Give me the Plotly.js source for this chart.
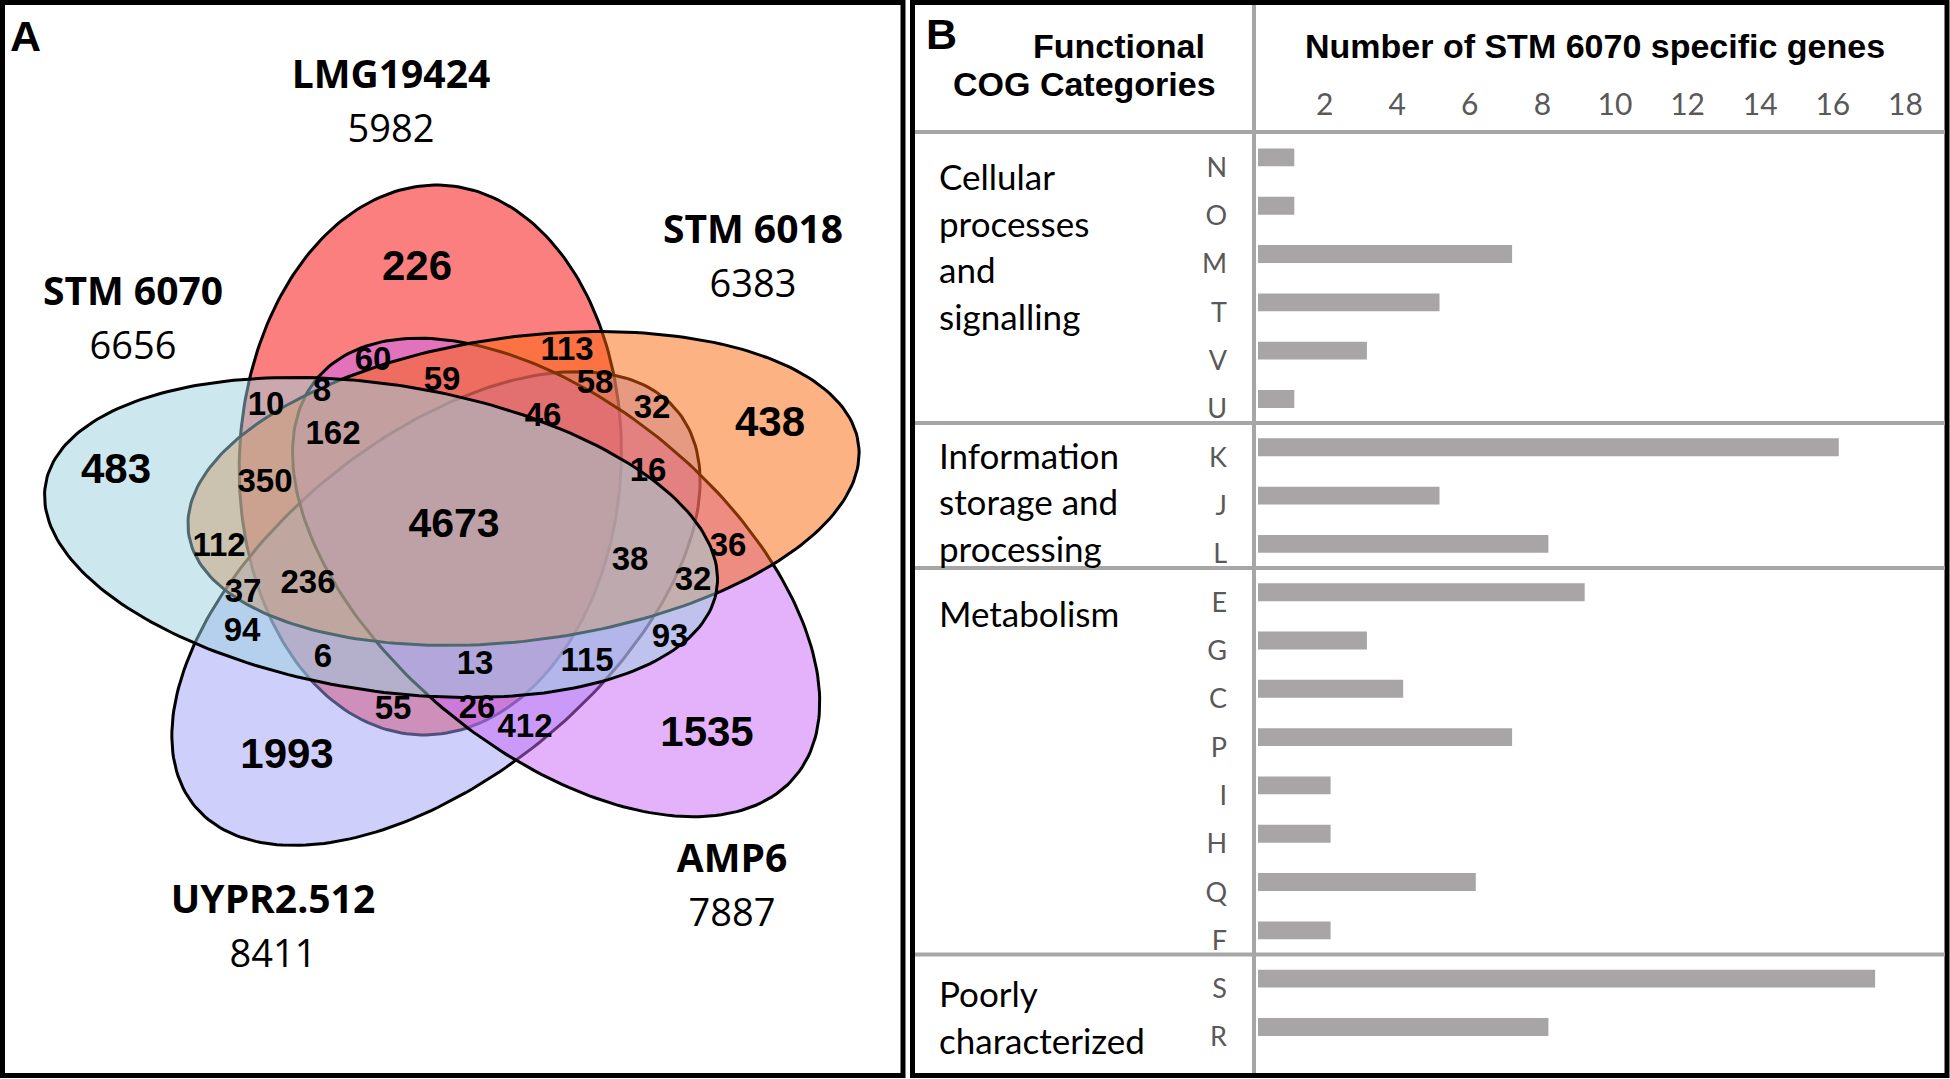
<!DOCTYPE html>
<html>
<head>
<meta charset="utf-8">
<script src="https://cdn.plot.ly/plotly-3.0.1.min.js"></script>
<style>
html, body { margin: 0; padding: 0; background: #fff; }
#chart { width: 1950px; height: 1079px; }
</style>
</head>
<body>
<div id="chart"></div>
<script>
// ---- panel A data: five genomes ----
const setNames  = ['LMG19424', 'STM 6018', 'AMP6', 'UYPR2.512', 'STM 6070'];
const setTotals = [5982, 6383, 7887, 8411, 6656];
// gene counts of the 31 Venn regions
const regionCounts = [226, 60, 113, 59, 8, 10, 58, 32, 438, 46, 162, 483, 350, 16, 4673,
    112, 36, 38, 32, 236, 37, 94, 93, 6, 115, 13, 26, 55, 412, 1535, 1993];

// ---- panel B data: COG categories ----
const cogLetters = ['N', 'O', 'M', 'T', 'V', 'U', 'K', 'J', 'L', 'E', 'G', 'C', 'P', 'I', 'H', 'Q', 'F', 'S', 'R'];
const cogCounts  = [1, 1, 7, 5, 3, 1, 16, 5, 8, 9, 3, 4, 7, 2, 2, 6, 2, 17, 8];
const groupNames = [['Cellular', 'processes', 'and', 'signalling'],
    ['Information', 'storage and', 'processing'], ['Metabolism'], ['Poorly', 'characterized']];
const groupSizes = [6, 3, 8, 2];
const xTicks = [2, 4, 6, 8, 10, 12, 14, 16, 18];

// ---- layout ----
const W = 1950, H = 1079;
const SX = 1.24; // venn is stretched sideways
// centre (unstretched px), semi axes, angle; same order as setNames
const ellipseGeom = [
    {cx: 347, cy: 460, a: 275, b: 154, rot: -88.5},
    {cx: 422.2, cy: 488.5, a: 274, b: 151, rot: -10.8},
    {cx: 448.5, cy: 577.5, a: 280, b: 155, rot: 51.4},
    {cx: 351.6, cy: 608.5, a: 280, b: 152, rot: -50.6},
    {cx: 307.3, cy: 537.5, a: 276, b: 152, rot: 12.6}
];
const setFill = ['rgba(250,0,0,0.5)', 'rgba(251,101,7,0.5)', 'rgba(199,101,247,0.5)',
    'rgba(159,159,247,0.5)', 'rgba(153,209,221,0.5)'];
const drawOrder = [0, 3, 2, 1, 4];
const nameXY = [[391, 78], [753, 233], [732, 862], [273, 903], [133, 295]];
const regionXY = [[417, 269], [373, 362], [567, 352], [442, 382], [322, 393], [266, 407], [595, 385],
    [652, 410], [770, 425], [543, 418], [333, 436], [116, 472], [265, 484], [648, 473], [454, 527],
    [219, 548], [728, 548], [630, 562], [693, 582], [308, 585], [243, 594], [242, 633], [670, 639],
    [323, 659], [587, 663], [475, 666], [477, 710], [393, 711], [525, 729], [707, 735], [287, 757]];
const petalRegions = [0, 8, 11, 29, 30];
const coreRegion = 14;
const groupTextY = [176, 455, 613, 993];
const lineGap = 46.5;

const x0px = 1258, pxPerUnit = 36.3, xRightPx = 1946;
const yTopPx = 132, yBotPx = 1075, rowTopPx = 157.4, rowStep = 48.31;

function px(x) { return x / W; }
function py(y) { return 1 - y / H; }

function ellipseXY(g) {
    const xs = [], ys = [];
    const r = g.rot * Math.PI / 180, c = Math.cos(r), s = Math.sin(r);
    for (let i = 0; i <= 240; i++) {
        const t = 2 * Math.PI * i / 240;
        const u = g.a * Math.cos(t), v = g.b * Math.sin(t);
        xs.push((g.cx + u * c - v * s) * SX);
        ys.push(g.cy + u * s + v * c);
    }
    return {xs: xs, ys: ys};
}

const traces = [];
drawOrder.forEach(function(i) {
    const e = ellipseXY(ellipseGeom[i]);
    traces.push({
        type: 'scatter', mode: 'lines', x: e.xs, y: e.ys, xaxis: 'x2', yaxis: 'y2',
        fill: 'toself', fillcolor: setFill[i], line: {color: '#000', width: 3},
        hoverinfo: 'skip', name: setNames[i]
    });
});

traces.push({
    type: 'scatter', mode: 'text', xaxis: 'x2', yaxis: 'y2', cliponaxis: false,
    x: regionXY.map(p => p[0]), y: regionXY.map(p => p[1]),
    text: regionCounts.map(String),
    textfont: {family: 'Liberation Sans, Arial, sans-serif', weight: 'bold', color: '#000',
        size: regionCounts.map(function(v, i) {
            if (i === coreRegion) return 41;
            return petalRegions.indexOf(i) >= 0 ? 42 : 33;
        })},
    hoverinfo: 'skip'
});
traces.push({
    type: 'scatter', mode: 'text', xaxis: 'x2', yaxis: 'y2', cliponaxis: false,
    x: nameXY.map(p => p[0]), y: nameXY.map(p => p[1]), text: setNames,
    textfont: {family: 'Open Sans, sans-serif', weight: 'bold', size: 39, color: '#000'},
    hoverinfo: 'skip'
});
traces.push({
    type: 'scatter', mode: 'text', xaxis: 'x2', yaxis: 'y2', cliponaxis: false,
    x: nameXY.map(p => p[0]), y: nameXY.map(p => p[1] + 54), text: setTotals.map(String),
    textfont: {family: 'Open Sans, sans-serif', size: 38, color: '#000'},
    hoverinfo: 'skip'
});

traces.push({
    type: 'bar', orientation: 'h', x: cogCounts, y: cogLetters, width: 0.37,
    marker: {color: '#a8a5a6'}, hoverinfo: 'skip'
});

const annotations = [];
function addText(txt, x, y, size, family, opts) {
    annotations.push(Object.assign({
        text: txt, xref: 'paper', yref: 'paper', x: px(x), y: py(y),
        xanchor: 'center', yanchor: 'middle', showarrow: false,
        font: {family: family, size: size, color: '#000'}
    }, opts || {}));
}
const boldFont = 'Liberation Sans, Arial, sans-serif';
addText('<b>A</b>', 25, 36, 43, boldFont);
addText('<b>B</b>', 941, 34, 43, boldFont);
addText('<b>Functional</b>', 1119, 46, 34, boldFont);
addText('<b>COG Categories</b>', 1084, 84, 34, boldFont);
addText('<b>Number of STM 6070 specific genes</b>', 1595, 46, 34, boldFont);
groupNames.forEach(function(lines, g) {
    lines.forEach(function(l, k) {
        addText(l, 937, groupTextY[g] + k * lineGap, 35, 'Lato, sans-serif', {xanchor: 'left'});
    });
});

const grey = '#a6a6a6';
const shapes = [
    {type: 'rect', xref: 'paper', yref: 'paper', x0: px(2.5), x1: px(903), y0: py(2.5), y1: py(1075.5),
        line: {color: '#000', width: 5}},
    {type: 'rect', xref: 'paper', yref: 'paper', x0: px(912.5), x1: px(1947), y0: py(2.5), y1: py(1075.5),
        line: {color: '#000', width: 5}},
    {type: 'line', xref: 'paper', yref: 'paper', x0: px(915), x1: px(1945), y0: py(yTopPx), y1: py(yTopPx),
        line: {color: grey, width: 4}},
    {type: 'line', xref: 'paper', yref: 'paper', x0: px(1254), x1: px(1254), y0: py(5), y1: py(1073),
        line: {color: grey, width: 4}}
];
let cum = 0;
groupSizes.slice(0, -1).forEach(function(n) {
    cum += n;
    shapes.push({type: 'line', xref: 'paper', yref: 'y', x0: px(915), x1: px(1945),
        y0: cum - 0.5, y1: cum - 0.5, line: {color: grey, width: 4}});
});

const layout = {
    width: W, height: H, margin: {l: 0, r: 0, t: 0, b: 0},
    paper_bgcolor: '#fff', plot_bgcolor: 'rgba(0,0,0,0)', showlegend: false,
    xaxis: {
        domain: [px(x0px), px(xRightPx)], range: [0, (xRightPx - x0px) / pxPerUnit],
        side: 'top', anchor: 'y', tickvals: xTicks, ticks: '', showgrid: false, zeroline: false,
        showline: false, ticklabelstandoff: 10, ticklabelshift: -6,
        tickfont: {family: 'Lato, sans-serif', size: 30, color: '#595959'}
    },
    yaxis: {
        domain: [py(yBotPx), py(yTopPx)], anchor: 'x', type: 'category', categoryarray: cogLetters,
        range: [18 + (yBotPx - rowTopPx - 18 * rowStep) / rowStep, -(rowTopPx - yTopPx) / rowStep],
        ticks: '', showgrid: false, zeroline: false, showline: false,
        ticklabelstandoff: 30, ticklabelshift: -10,
        tickfont: {family: 'Lato, sans-serif', size: 27, color: '#595959'}
    },
    xaxis2: {domain: [0, px(905)], range: [0, 905], anchor: 'y2', visible: false},
    yaxis2: {domain: [0, 1], range: [H, 0], anchor: 'x2', visible: false},
    annotations: annotations,
    shapes: shapes
};

Plotly.newPlot('chart', traces, layout, {staticPlot: true, displayModeBar: false});
</script>
</body>
</html>
